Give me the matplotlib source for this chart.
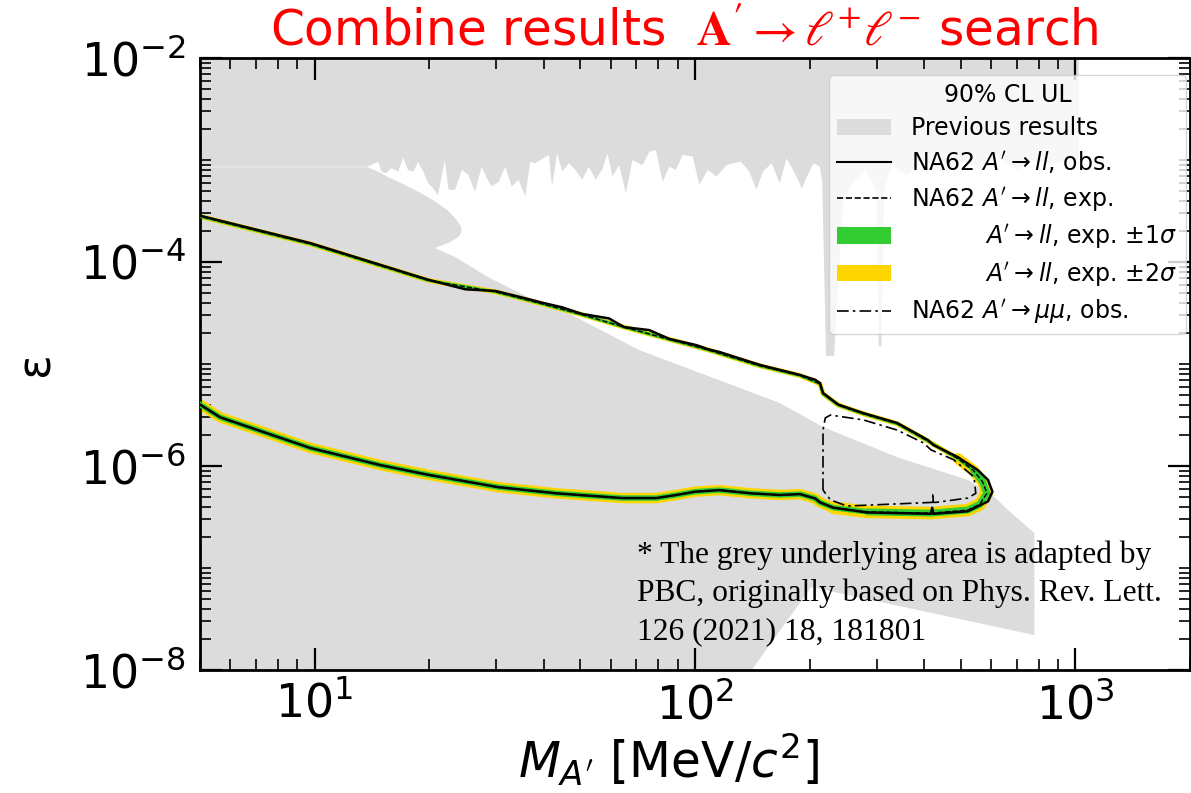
import numpy as np
import matplotlib
matplotlib.use("Agg")
import matplotlib.pyplot as plt
from matplotlib.patches import Patch
from matplotlib.lines import Line2D
from matplotlib.ticker import FixedLocator, LogFormatterSciNotation, NullFormatter

# ---------------- data ----------------
# Previous results: lower edge of the upper excluded band (jagged), mass [MeV], epsilon
prev_top_m = [13.8, 14.7, 15.0, 15.4, 15.9, 16.6, 17.1, 17.6, 18.2, 18.7, 19.3, 19.9, 20.5,
              21.1, 22.0, 22.5, 23.4, 24.4, 25.4, 26.4, 27.5, 28.4, 29.2, 30.5, 31.7, 33.0,
              34.4, 35.8, 36.9, 38.0, 39.2, 41.3, 42.1, 43.4, 44.8, 46.6, 48.5, 50.5, 52.6,
              54.8, 57.0, 58.9, 60.7, 63.2, 65.8, 68.5, 72.8, 75.8, 78.9, 82.2, 85.6, 89.1,
              92.8, 98.6, 102.7, 108, 114, 121, 126, 132, 139, 145, 151, 159, 167, 174, 181,
              191, 197, 205, 213, 216, 221, 232, 245, 260, 280, 300, 304, 309, 314, 330,
              360, 400, 450, 500, 560, 620, 700, 780, 860, 950, 1020]
prev_top_e = [8.6e-4, 9.6e-4, 7.7e-4, 7.4e-4, 8.3e-4, 7.7e-4, 1.06e-3, 8.0e-4, 7.7e-4, 9.6e-4,
              7.7e-4, 5.9e-4, 5.3e-4, 4.5e-4, 1.0e-3, 5.1e-4, 5.1e-4, 8.0e-4, 7.1e-4, 4.9e-4,
              8.6e-4, 6.6e-4, 5.5e-4, 6.1e-4, 8.6e-4, 5.5e-4, 6.4e-4, 4.4e-4, 9.6e-4, 9.3e-4,
              1.0e-3, 1.12e-3, 5.5e-4, 1.16e-3, 7.7e-4, 9.3e-4, 8.0e-4, 6.4e-4, 8.6e-4, 6.4e-4,
              8.0e-4, 1.16e-3, 6.9e-4, 8.9e-4, 4.7e-4, 1.0e-3, 8.9e-4, 1.2e-3, 1.25e-3, 6.1e-4,
              8.6e-4, 8.0e-4, 1.12e-3, 1.08e-3, 5.7e-4, 8.0e-4, 6.9e-4, 8.9e-4, 9.3e-4, 9.6e-4,
              7.7e-4, 5.1e-4, 7.7e-4, 9.3e-4, 5.9e-4, 1.04e-3, 8.0e-4, 5.3e-4, 6.9e-4, 9.3e-4,
              8.6e-4, 6.0e-4, 1.2e-5, 1.2e-5, 4.0e-4, 6.0e-4, 8.0e-4, 5.0e-4, 1.5e-5, 1.5e-5,
              5.0e-4, 9.0e-4, 7.0e-4, 1.0e-3, 7.5e-4, 1.0e-3, 8.0e-4, 1.1e-3, 8.0e-4, 1.0e-3,
              9.0e-4, 1.0e-3, 1.0e-3]
# Previous results: outline of the lower-left excluded region (nose, diagonal, lower edge)
prev_low_m = [13.8, 14.8, 15.6, 17.3, 19.1, 20.8, 22.4, 23.6, 24.3, 24.3, 23.9, 22.6, 20.7,
              23.4, 28.6, 36.5, 41.3, 71.3, 167, 217, 340, 521, 611, 665, 780, 780, 202, 141]
prev_low_e = [8.5e-4, 7.6e-4, 6.8e-4, 5.7e-4, 4.7e-4, 3.9e-4, 3.2e-4, 2.6e-4, 2.2e-4,
              1.95e-4, 1.76e-4, 1.55e-4, 1.37e-4, 1.12e-4, 7.1e-5, 4.5e-5, 3.96e-5, 1.37e-5,
              4.15e-6, 2.41e-6, 1.22e-6, 7.3e-7, 5.0e-7, 3.7e-7, 2.2e-7, 2.2e-8, 6.5e-8, 1.0e-8]

# NA62 A' -> ll observed exclusion contour (upper and lower branch, mass ascending)
ll_obs_up_m = [4.9, 9.76, 19.9, 24.9, 29.9, 35, 39.5, 44.7, 50.4, 59.4, 65.1, 75.8, 85.7,
               100.9, 107.9, 116, 148, 189, 207, 213, 217, 238, 277, 340, 409, 424, 491,
               554, 589, 605]
ll_obs_up_e = [2.9e-4, 1.53e-4, 6.7e-5, 5.4e-5, 5.2e-5, 4.5e-5, 4.0e-5, 3.6e-5, 3.1e-5,
               2.8e-5, 2.3e-5, 2.15e-5, 1.76e-5, 1.53e-5, 1.40e-5, 1.31e-5, 9.8e-6, 7.8e-6,
               7.0e-6, 6.5e-6, 5.2e-6, 4.0e-6, 3.3e-6, 2.64e-6, 1.8e-6, 1.6e-6, 1.22e-6,
               9.1e-7, 7.3e-7, 5.6e-7]
ll_obs_lo_m = [4.9, 5.65, 9.76, 14.9, 19.9, 30.4, 43.1, 64.3, 79.1, 89.4, 100, 116, 140,
               167, 189, 207, 213, 231, 284, 417, 420, 423, 521, 589, 605]
ll_obs_lo_e = [4.2e-6, 3.0e-6, 1.5e-6, 1.02e-6, 8.2e-7, 6.2e-7, 5.4e-7, 4.85e-7, 4.85e-7,
               5.2e-7, 5.6e-7, 5.8e-7, 5.4e-7, 5.2e-7, 5.3e-7, 4.8e-7, 4.4e-7, 3.9e-7,
               3.5e-7, 3.4e-7, 3.9e-7, 3.4e-7, 3.6e-7, 4.5e-7, 5.6e-7]

# NA62 A' -> ll expected contour (nearly coincident with observed, tip slightly inside)
ll_exp_up_m = [4.9, 9.76, 19.9, 29.9, 39.5, 50.4, 65.1, 85.7, 107.9, 148, 189, 213, 217,
               238, 277, 340, 409, 491, 540, 570, 585]
ll_exp_up_e = [2.85e-4, 1.5e-4, 6.6e-5, 5.1e-5, 3.9e-5, 3.05e-5, 2.3e-5, 1.74e-5, 1.38e-5,
               9.6e-6, 7.7e-6, 6.4e-6, 5.1e-6, 3.95e-6, 3.25e-6, 2.6e-6, 1.76e-6, 1.18e-6,
               9.0e-7, 7.0e-7, 5.4e-7]
ll_exp_lo_m = [4.9, 5.65, 9.76, 14.9, 19.9, 30.4, 43.1, 64.3, 79.1, 89.4, 100, 116, 140,
               167, 189, 207, 213, 231, 284, 417, 521, 560, 585]
ll_exp_lo_e = [4.2e-6, 3.0e-6, 1.5e-6, 1.02e-6, 8.2e-7, 6.2e-7, 5.4e-7, 4.85e-7, 4.85e-7,
               5.2e-7, 5.6e-7, 5.8e-7, 5.4e-7, 5.2e-7, 5.3e-7, 4.8e-7, 4.4e-7, 3.9e-7,
               3.55e-7, 3.45e-7, 3.7e-7, 4.2e-7, 5.4e-7]

# NA62 A' -> mumu observed contour (closed loop)
mumu_m = [217, 217, 220, 227, 277, 340, 399, 417, 479, 541, 547, 521, 430, 423, 422, 421,
          251, 227, 217]
mumu_e = [5.8e-7, 2.25e-6, 2.96e-6, 3.16e-6, 2.83e-6, 2.25e-6, 1.68e-6, 1.44e-6, 1.15e-6,
          7.8e-7, 5.4e-7, 4.85e-7, 4.4e-7, 4.4e-7, 5.4e-7, 4.4e-7, 4.05e-7, 4.65e-7, 5.8e-7]

x_major = [10, 100, 1000]
y_major = [1e-8, 1e-6, 1e-4, 1e-2]

pad_sp = " " * 10
legend_labels = ["Previous results",
                 "NA62 $A'\\rightarrow ll$, obs.",
                 "NA62 $A'\\rightarrow ll$, exp.",
                 pad_sp + "$A'\\rightarrow ll$, exp. $\\pm1\\sigma$",
                 pad_sp + "$A'\\rightarrow ll$, exp. $\\pm2\\sigma$",
                 "NA62 $A'\\rightarrow \\mu\\mu$, obs."]

GREY = "#dcdcdc"
GREEN = "#33cc33"
YELLOW = "#ffd500"

# ---------------- figure ----------------
fig = plt.figure(figsize=(11.91, 7.93), dpi=100)
ax = fig.add_axes([200 / 1191, 123 / 793, 990 / 1191, 612 / 793])
ax.set_xscale("log")
ax.set_yscale("log")
ax.set_xlim(5, 2000)
ax.set_ylim(1e-8, 1e-2)

XL, XR, YT, YB = 3.0, 1020, 3e-2, 3e-9
# upper excluded band
top_x = list(prev_top_m) + [XR, XL, XL]
top_y = list(prev_top_e) + [YT, YT, prev_top_e[0]]
ax.fill(top_x, top_y, color=GREY, lw=0, zorder=0)
# lower-left excluded region
low_x = [XL] + list(prev_low_m) + [prev_low_m[-1] * 0.92, XL]
low_y = [prev_low_e[0]] + list(prev_low_e) + [YB, YB]
ax.fill(low_x, low_y, color=GREY, lw=0, zorder=0)

# bands (drawn along the expected contour)
kw = dict(solid_capstyle="round", solid_joinstyle="round")
ax.plot(ll_exp_lo_m, ll_exp_lo_e, color=YELLOW, lw=7.5, zorder=2, **kw)
ax.plot(ll_exp_up_m, ll_exp_up_e, color=YELLOW, lw=3.5, zorder=2, **kw)
ax.plot(ll_exp_lo_m[-6:], ll_exp_lo_e[-6:], color=YELLOW, lw=9, zorder=2, **kw)
ax.plot(ll_exp_up_m[-4:], ll_exp_up_e[-4:], color=YELLOW, lw=8, zorder=2, **kw)
ax.plot(ll_exp_lo_m, ll_exp_lo_e, color=GREEN, lw=4.0, zorder=3, **kw)
ax.plot(ll_exp_up_m, ll_exp_up_e, color=GREEN, lw=2.2, zorder=3, **kw)
ax.plot(ll_exp_lo_m[-5:], ll_exp_lo_e[-5:], color=GREEN, lw=5, zorder=3, **kw)
ax.plot(ll_exp_up_m[-3:], ll_exp_up_e[-3:], color=GREEN, lw=5, zorder=3, **kw)

# expected (dashed) and observed (solid) lines
exp_m = list(ll_exp_up_m) + list(ll_exp_lo_m[::-1])
exp_e = list(ll_exp_up_e) + list(ll_exp_lo_e[::-1])
ax.plot(exp_m, exp_e, color="black", lw=1.0, ls="--", zorder=4)
obs_m = list(ll_obs_up_m) + list(ll_obs_lo_m[::-1])
obs_e = list(ll_obs_up_e) + list(ll_obs_lo_e[::-1])
ax.plot(obs_m, obs_e, color="black", lw=1.8, zorder=5)
DASHDOT = (0, (7, 2.5, 1.5, 2.5))
ax.plot(mumu_m, mumu_e, color="black", lw=1.2, ls=DASHDOT, zorder=5)

# ticks
ax.xaxis.set_major_locator(FixedLocator(x_major))
ax.yaxis.set_major_locator(FixedLocator(y_major))
ax.xaxis.set_major_formatter(LogFormatterSciNotation())
ax.yaxis.set_major_formatter(LogFormatterSciNotation())
xmin = [k * 10.0 ** n for n in range(0, 4) for k in range(1, 10) if k * 10.0 ** n not in x_major]
ymin = [k * 10.0 ** n for n in range(-9, -1) for k in range(1, 10)
        if not any(abs(k * 10.0 ** n / v - 1) < 1e-6 for v in y_major)]
ax.xaxis.set_minor_locator(FixedLocator(xmin))
ax.yaxis.set_minor_locator(FixedLocator(ymin))
ax.xaxis.set_minor_formatter(NullFormatter())
ax.yaxis.set_minor_formatter(NullFormatter())
ax.tick_params(which="major", direction="in", length=16, width=1.6, top=True, right=True)
ax.tick_params(which="minor", direction="in", length=8, width=1.2, top=True, right=True)
ax.tick_params(axis="x", which="major", labelsize=33, pad=9)
ax.tick_params(axis="y", which="major", labelsize=33, pad=10)
for s in ax.spines.values():
    s.set_linewidth(2.0)

ax.set_xlabel("$M_{A'}$ [MeV/$c^2$]", fontsize=35)
ax.xaxis.set_label_coords((669 - 200) / 990, (670 - 731) / 612)
ax.set_ylabel("ε", fontsize=33)
ax.yaxis.set_label_coords((58 - 200) / 990, 0.5)

# legend
handles = [Patch(facecolor=GREY, edgecolor="none"),
           Line2D([], [], color="black", lw=1.5),
           Line2D([], [], color="black", lw=1.2, ls="--"),
           Patch(facecolor=GREEN, edgecolor="none"),
           Patch(facecolor=YELLOW, edgecolor="none"),
           Line2D([], [], color="black", lw=1.2, ls=DASHDOT)]
leg = ax.legend(handles, legend_labels, title="90% CL UL", loc="upper right",
                bbox_to_anchor=(0.996, 0.972), borderaxespad=0, fontsize=17,
                title_fontsize=17, handlelength=2.3, handletextpad=0.85,
                labelspacing=0.38, borderpad=0.35, framealpha=0.8, fancybox=True)
leg.set_zorder(10)

# annotation
ax.text((637 - 200) / 990, (670 - 540) / 612,
        "* The grey underlying area is adapted by\nPBC, originally based on Phys. Rev. Lett.\n126 (2021) 18, 181801",
        transform=ax.transAxes, family="Liberation Serif", fontsize=22.7, va="top", ha="left",
        linespacing=1.42, zorder=11)

# title
fig.text(684 / 1191, 1 - 31 / 793, "Combine results  $\\mathbf{A'}\\rightarrow\\ell^{+}\\ell^{-}$ search",
         color="#ff0000", fontsize=35, ha="center", va="center", math_fontfamily="stix",
         family="DejaVu Sans")

fig.savefig("out.png", dpi=100)
